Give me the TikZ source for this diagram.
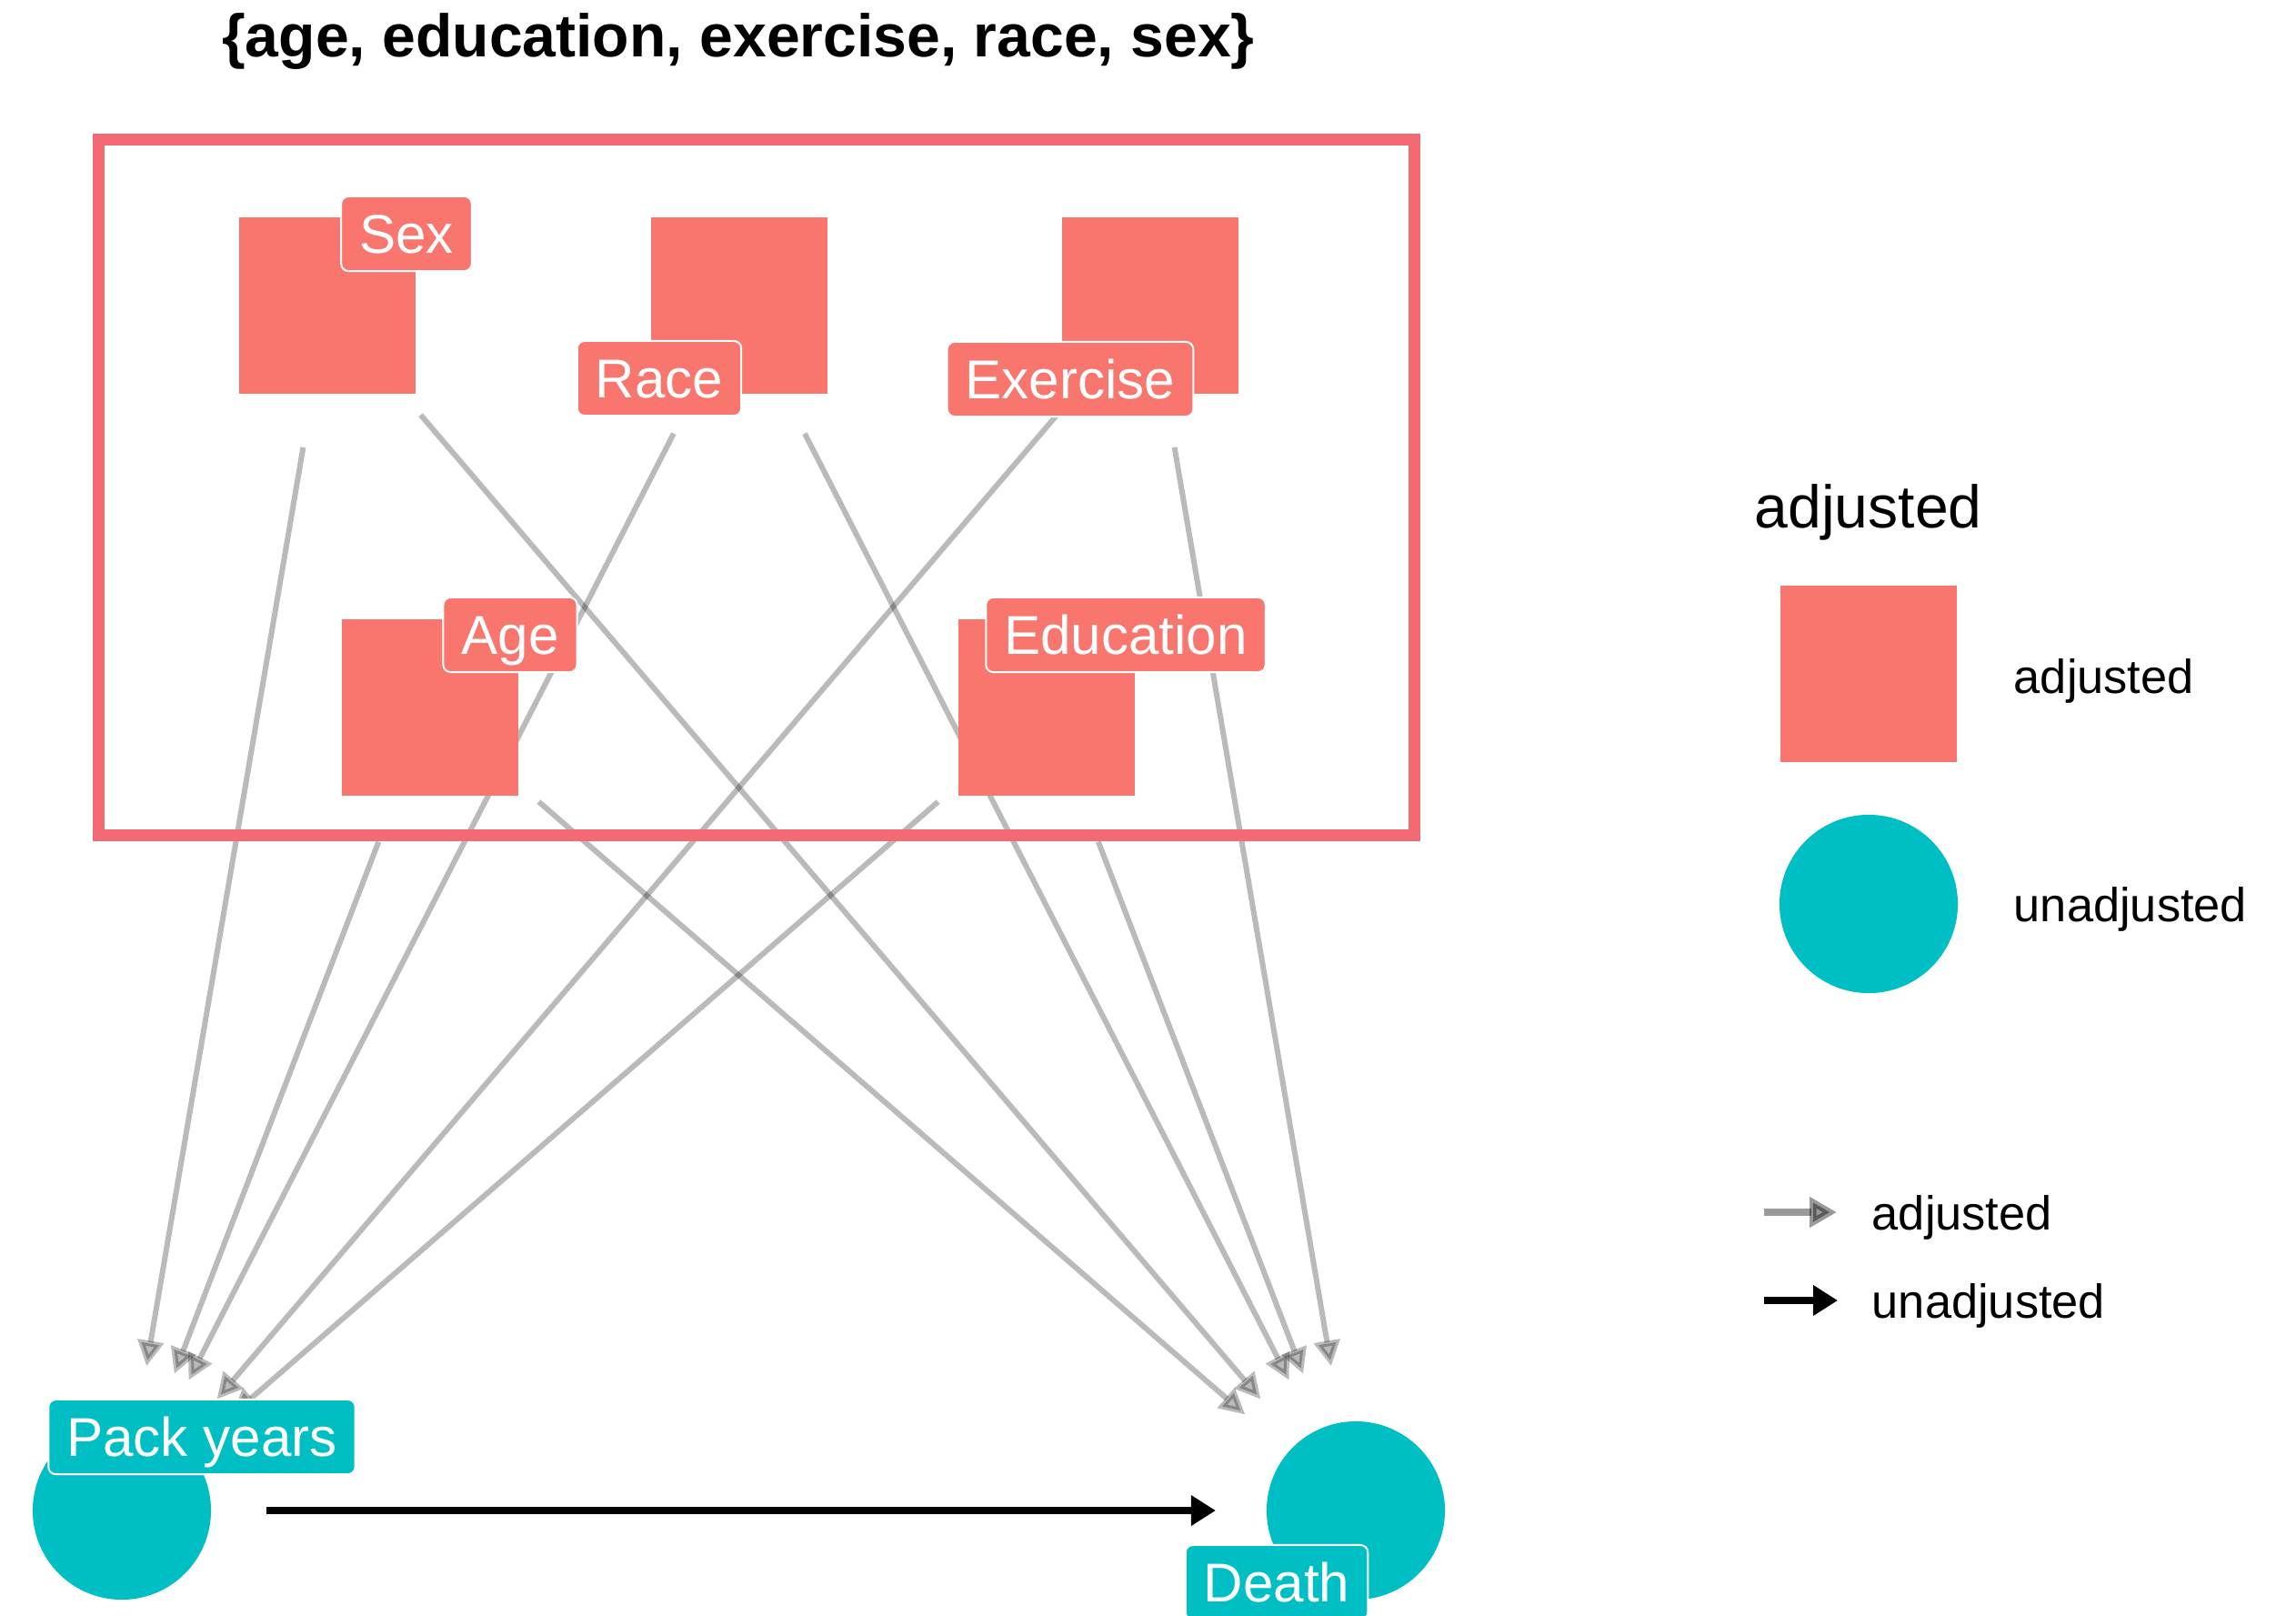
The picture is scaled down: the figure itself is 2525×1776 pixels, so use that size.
\documentclass[tikz,border=0pt]{standalone}
\usepackage{fontspec}
\setmainfont{Liberation Sans}
\usetikzlibrary{arrows.meta,backgrounds}
\definecolor{adjred}{HTML}{F8766D}
\definecolor{unadj}{HTML}{00BFC4}
\definecolor{framered}{HTML}{F36A72}
\newcommand{\labfont}{\fontsize{17.1pt}{20pt}\selectfont}
\newcommand{\legtitlefont}{\fontsize{18.8pt}{22pt}\selectfont}
\newcommand{\legfont}{\fontsize{14.9pt}{18pt}\selectfont}
\newcommand{\titlefont}{\fontsize{18.8pt}{22pt}\selectfont\bfseries}
\begin{document}
\begin{tikzpicture}[x=0.01cm,y=-0.01cm,
  sqnode/.style={rectangle, fill=adjred, draw=none, minimum size=1.93cm, inner sep=0pt},
  circnode/.style={circle, fill=unadj, draw=none, minimum size=1.96cm, inner sep=0pt},
  labbox/.style={rounded corners=0.08cm, draw=white, line width=0.02cm, text=white,
     font=\labfont, text height=0.43cm, text depth=0cm, inner ysep=0.195cm, inner xsep=0.2cm},
  redlab/.style={labbox, fill=adjred},
  teallab/.style={labbox, fill=unadj},
  adjedge/.style={draw=black, opacity=0.27, line width=0.06cm,
     -{Triangle[length=0.28cm, width=0.28cm, fill=black]}},
  unadjedge/.style={draw=black, line width=0.075cm,
     -{Triangle[length=0.27cm, width=0.32cm, fill=black]}},
  dagedge/.style={shorten <=1.58cm, shorten >=1.61cm},
  legtext/.style={anchor=base west, inner sep=0pt, font=\legfont}
]
\useasboundingbox (0,0) rectangle (2525,1776);

% nodes
\node[sqnode] (sex) at (360,336) {};
\node[sqnode] (race) at (813,336) {};
\node[sqnode] (exercise) at (1265,336) {};
\node[sqnode] (age) at (473,778) {};
\node[sqnode] (education) at (1151,778) {};
\node[circnode] (pack) at (134,1661) {};
\node[circnode] (death) at (1491,1661) {};

% edges behind the nodes
\begin{scope}[on background layer]
  \fill[white] (0,0) rectangle (2525,1776);
  \foreach \a in {sex,race,exercise,age,education}{
    \draw[adjedge, dagedge] (\a.center) -- (pack.center);
    \draw[adjedge, dagedge] (\a.center) -- (death.center);
  }
\end{scope}

% adjustment set frame
\draw[framered, line width=0.13cm] (108.5,153.5) rectangle (1555.5,918.5);

% main unadjusted arrow
\draw[unadjedge, shorten <=1.59cm, shorten >=1.54cm] (pack.center) -- (death.center);

% labels
\node[redlab] (sexlab) at (447,257) {Sex};
\node[redlab] (racelab) at (725,416) {Race};
\node[redlab] (exerciselab) at (1177,417) {Exercise};
\node[redlab] (agelab) at (561,698) {Age};
\node[redlab] (educationlab) at (1238,698) {Education};
\node[teallab] (packlab) at (222,1580) {Pack years};
\node[teallab] (deathlab) at (1404,1740) {Death};

% title
\node[anchor=base, inner sep=0pt, font=\titlefont] (title) at (812,63) {\{age, education, exercise, race, sex\}};

% legend
\node[anchor=base west, inner sep=0pt, font=\legtitlefont] (legtitle) at (1929,580) {adjusted};
\node[sqnode] (legsq) at (2055,741) {};
\node[circnode] (legcirc) at (2055,994) {};
\node[legtext] (legsqtext) at (2214,762) {adjusted};
\node[legtext] (legcirctext) at (2214,1013) {unadjusted};
\coordinate (ga1) at (1940,1333);
\coordinate (ga2) at (2020,1333);
\draw[adjedge, opacity=0.4, line width=0.075cm, -{Triangle[length=0.3cm, width=0.32cm, fill=black]}] (ga1) -- (ga2);
\node[legtext] (legadjtext) at (2058,1352) {adjusted};
\coordinate (ba1) at (1940,1430);
\coordinate (ba2) at (2021,1430);
\draw[unadjedge] (ba1) -- (ba2);
\node[legtext] (legunadjtext) at (2058,1449) {unadjusted};
\end{tikzpicture}
\end{document}
